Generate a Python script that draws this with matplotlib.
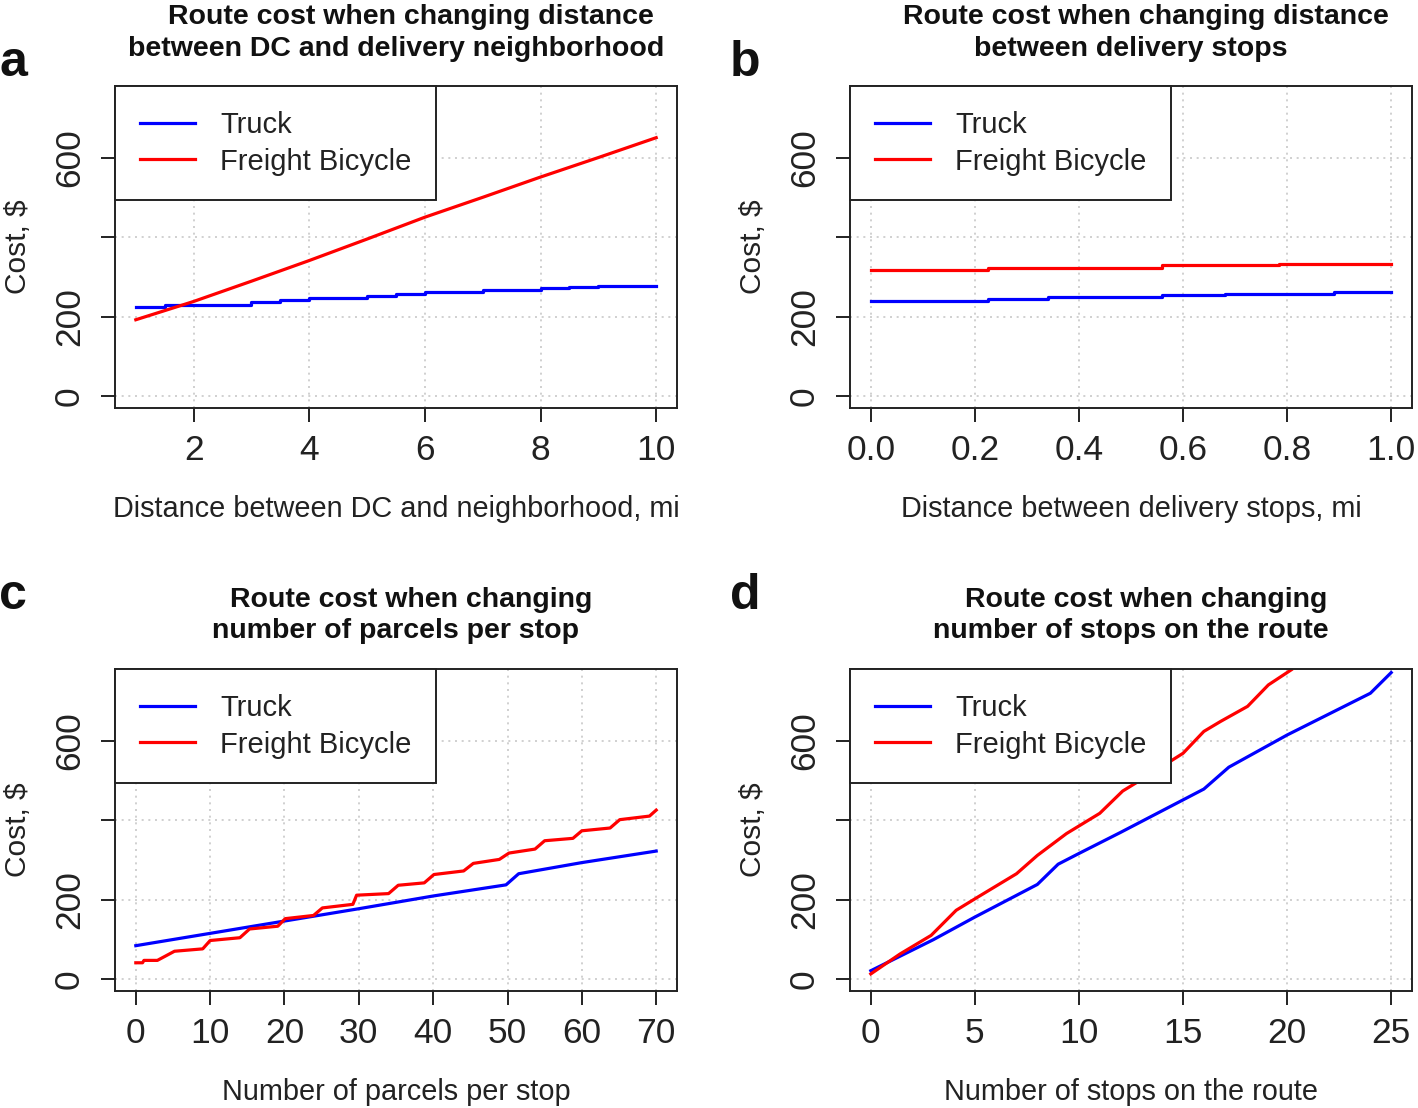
import matplotlib
matplotlib.use("Agg")
import matplotlib.pyplot as plt
from matplotlib.lines import Line2D

plt.rcParams['font.family'] = ['Liberation Sans', 'DejaVu Sans']

BLUE = '#0000FF'
RED = '#FF0000'

# a: distance between DC and neighborhood (truck is a step series)
a_truck_x = [1, 1.5, 3.0, 3.5, 4.0, 5.0, 5.5, 6.0, 7.0, 8.0, 8.5, 9.0, 10]
a_truck_y = [225, 230, 236, 241, 246, 251, 256, 261, 266, 272, 275, 278, 278]
a_bike_x = [1, 2, 3, 4, 5, 6, 7, 8, 9, 10]
a_bike_y = [192, 238, 289, 341, 395, 450, 500, 551, 600, 650]

# b: distance between delivery stops (both step series)
b_truck_x = [0, 0.225, 0.34, 0.56, 0.68, 0.89, 1.0]
b_truck_y = [239, 243, 248, 253, 257, 261, 261]
b_bike_x = [0, 0.225, 0.56, 0.785, 1.0]
b_bike_y = [318, 323, 329, 333, 333]

# c: parcels per stop
c_truck_x = [0, 10, 20, 30, 40, 49.8, 51.5, 60, 70]
c_truck_y = [84, 115, 146, 177, 209, 237, 265, 293, 322]
c_bike_x = [0, 0.9, 1.1, 2.9, 5.2, 9.0, 10.0, 14.0, 15.3, 19.1, 20.1, 23.9, 25.1,
            29.2, 29.7, 34.0, 35.3, 38.8, 40.1, 44.1, 45.4, 48.9, 50.2, 53.7,
            55.0, 58.8, 60.0, 63.8, 65.1, 69.1, 70.0]
c_bike_y = [41, 41, 47, 47, 70, 76, 97, 104, 126, 133, 152, 160, 179, 188, 211,
            215, 236, 242, 263, 272, 291, 301, 317, 327, 348, 354, 373, 380, 401,
            410, 425]

# d: stops on the route
d_truck_x = [0, 3, 5, 8, 9, 10, 12, 16, 17.2, 20, 24, 25]
d_truck_y = [21, 99, 156, 238, 289, 316, 369, 478, 533, 614, 719, 771]
d_bike_x = [0, 1.4, 2.9, 4.1, 5.1, 7.0, 8.0, 9.4, 11.0, 12.1, 13.1, 15.0, 16.0,
            16.8, 18.1, 19.1, 20.2]
d_bike_y = [13, 63, 110, 173, 205, 265, 311, 366, 417, 473, 505, 568, 623, 648,
            686, 740, 778]

W, H = 1418, 1108
fig = plt.figure(figsize=(W / 100, H / 100), dpi=100)


def px_axes(left, top, right, bottom):
    return fig.add_axes([left / W, 1 - bottom / H, (right - left) / W, (bottom - top) / H])


def panel(ax, letter, lpos, title1, title2, xlabel, xlim, xticks, xticklabels,
          tx, ty, bx, by, tstep, bstep):
    ax.plot(tx, ty, color=BLUE, lw=2.3, drawstyle='steps-post' if tstep else 'default')
    ax.plot(bx, by, color=RED, lw=2.3, drawstyle='steps-post' if bstep else 'default')
    ax.set_xlim(*xlim)
    ax.set_ylim(-30, 780)
    ax.set_xticks(xticks)
    ax.set_xticklabels(xticklabels)
    ax.set_yticks([0, 200, 400, 600])
    ax.set_yticklabels(['0', '200', '', '600'])
    ax.grid(True, color='#c8c8c8', linestyle=(0, (1.2, 2.8)), linewidth=1.2)
    ax.set_axisbelow(True)
    for s in ax.spines.values():
        s.set_linewidth(1.4)
        s.set_color('#222222')
    ax.tick_params(axis='both', direction='out', length=10, width=1.4,
                   labelsize=25.5, colors='#222222')
    ax.tick_params(axis='x', pad=9)
    ax.tick_params(axis='y', pad=11, labelrotation=90)
    for t in ax.get_yticklabels():
        t.set_va('center')

    h = [Line2D([], [], color=BLUE, lw=2.3), Line2D([], [], color=RED, lw=2.3)]
    leg = ax.legend(h, ['Truck', 'Freight Bicycle'], loc='upper left',
                    bbox_to_anchor=(0, 1), borderaxespad=0, fancybox=False,
                    edgecolor='#222222', framealpha=1, fontsize=21,
                    handlelength=1.9, handletextpad=0.85, borderpad=0.85,
                    labelspacing=0.3)
    leg.get_frame().set_linewidth(1.4)
    for t in leg.get_texts():
        t.set_color('#222222')

    ax.annotate(title1, xy=(0.5, 1), xycoords='axes fraction', xytext=(10.8, 50),
                textcoords='offset points', ha='center', va='center',
                fontsize=20.5, fontweight='bold', color='#111111')
    ax.annotate(title2, xy=(0.5, 1), xycoords='axes fraction', xytext=(0, 27),
                textcoords='offset points', ha='center', va='center',
                fontsize=20.5, fontweight='bold', color='#111111')
    ax.annotate(xlabel, xy=(0.5, 0), xycoords='axes fraction', xytext=(0, -73),
                textcoords='offset points', ha='center', va='center',
                fontsize=20.8, color='#222222')
    ax.annotate('Cost, $', xy=(0, 0.5), xycoords='axes fraction', xytext=(-70, 0),
                textcoords='offset points', ha='center', va='center',
                rotation=90, fontsize=21.5, color='#222222')
    fig.text(lpos[0] / W, 1 - lpos[1] / H, letter, fontsize=36, fontweight='bold',
             ha='center', va='baseline', color='#111111')


ax_a = px_axes(115, 86, 677, 408)
panel(ax_a, 'a', (13, 76), 'Route cost when changing distance',
      'between DC and delivery neighborhood',
      'Distance between DC and neighborhood, mi', (0.64, 10.36),
      [2, 4, 6, 8, 10], ['2', '4', '6', '8', '10'],
      a_truck_x, a_truck_y, a_bike_x, a_bike_y, True, False)

ax_b = px_axes(850, 86, 1412, 408)
panel(ax_b, 'b', (745, 76), 'Route cost when changing distance',
      'between delivery stops', 'Distance between delivery stops, mi',
      (-0.04, 1.04), [0, 0.2, 0.4, 0.6, 0.8, 1.0],
      ['0.0', '0.2', '0.4', '0.6', '0.8', '1.0'],
      b_truck_x, b_truck_y, b_bike_x, b_bike_y, True, True)

ax_c = px_axes(115, 669, 677, 991)
panel(ax_c, 'c', (13, 609), 'Route cost when changing',
      'number of parcels per stop', 'Number of parcels per stop',
      (-2.8, 72.8), [0, 10, 20, 30, 40, 50, 60, 70],
      ['0', '10', '20', '30', '40', '50', '60', '70'],
      c_truck_x, c_truck_y, c_bike_x, c_bike_y, False, False)

ax_d = px_axes(850, 669, 1412, 991)
panel(ax_d, 'd', (745, 609), 'Route cost when changing',
      'number of stops on the route', 'Number of stops on the route',
      (-1.0, 26.0), [0, 5, 10, 15, 20, 25],
      ['0', '5', '10', '15', '20', '25'],
      d_truck_x, d_truck_y, d_bike_x, d_bike_y, False, False)

fig.savefig('out.png', dpi=100, facecolor='white')
